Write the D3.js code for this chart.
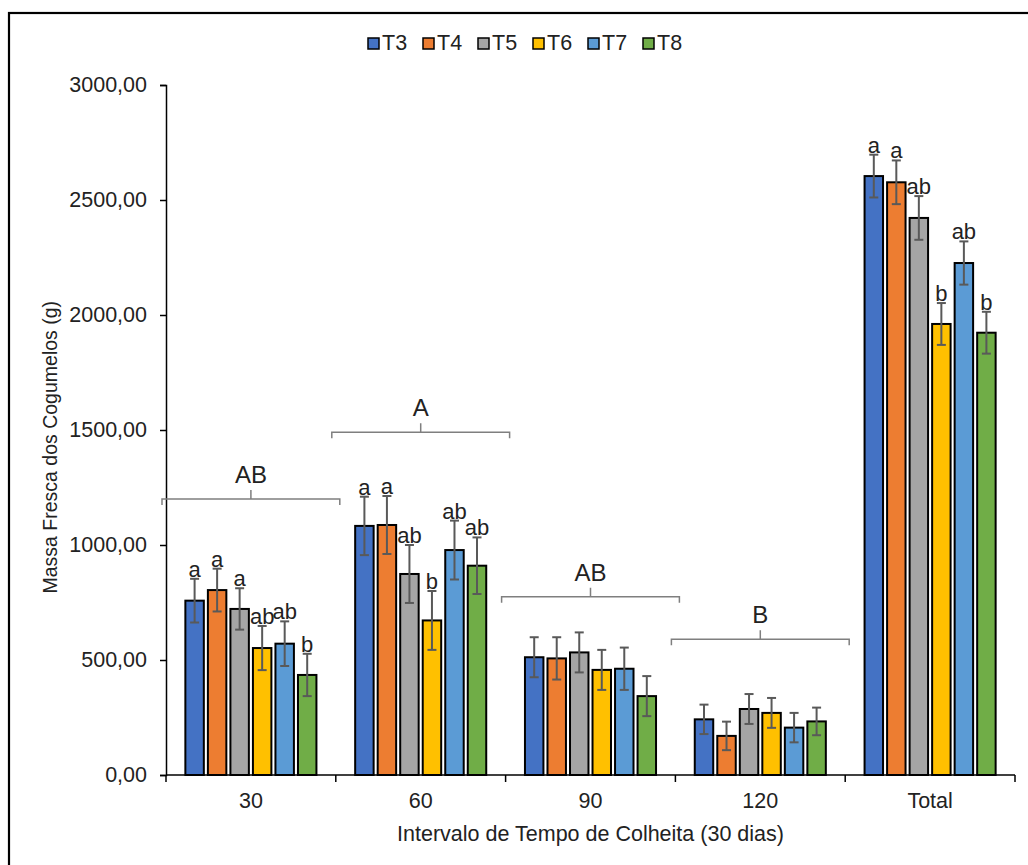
<!DOCTYPE html>
<html>
<head>
<meta charset="utf-8">
<script src="https://cdn.jsdelivr.net/npm/d3@7"></script>
<style>
    body { margin: 0; background: #fff; }
    text { font-family: Arial, "Liberation Sans", sans-serif; fill: #222; }
</style>
</head>
<body>
<div id="chart"></div>
<script>

// categories and series
let categories = ["30", "60", "90", "120", "Total"];
let series = ["T3", "T4", "T5", "T6", "T7", "T8"];
let colors = ["#4472C4", "#ED7D31", "#A5A5A5", "#FFC000", "#5B9BD5", "#70AD47"];

// mean fresh mass per series, one value per category
let t3 = [758, 1083, 512, 242, 2604];
let t4 = [804, 1087, 507, 170, 2577];
let t5 = [722, 874, 533, 287, 2422];
let t6 = [552, 672, 457, 270, 1961];
let t7 = [571, 978, 462, 206, 2226];
let t8 = [435, 910, 343, 233, 1923];

// error (+/-) per series
let t3Err = [95, 127, 87, 64, 93];
let t4Err = [93, 126, 92, 62, 95];
let t5Err = [90, 126, 87, 65, 95];
let t6Err = [96, 128, 87, 65, 91];
let t7Err = [97, 128, 92, 64, 94];
let t8Err = [92, 123, 87, 60, 91];

// significance letters per category (series order)
let letters30 = ["a", "a", "a", "ab", "ab", "b"];
let letters60 = ["a", "a", "ab", "b", "ab", "ab"];
let letters90 = ["", "", "", "", "", ""];
let letters120 = ["", "", "", "", "", ""];
let lettersTotal = ["a", "a", "ab", "b", "ab", "b"];

// group letters and bracket level for the time intervals
let groupCats = ["30", "60", "90", "120"];
let groupLetters = ["AB", "A", "AB", "B"];
let groupLevels = [1200, 1490, 775, 590];

let yTicks = [0, 500, 1000, 1500, 2000, 2500, 3000];

// build the table
let allValues = [t3, t4, t5, t6, t7, t8];
let allErrs = [t3Err, t4Err, t5Err, t6Err, t7Err, t8Err];
let allLetters = [letters30, letters60, letters90, letters120, lettersTotal];

let data = [];
categories.forEach((cat, ci) => {
    series.forEach((s, si) => {
        data.push({
            cat: cat,
            series: s,
            value: allValues[si][ci],
            err: allErrs[si][ci],
            letter: allLetters[ci][si],
            color: colors[si]
        });
    });
});

let W = 1028, H = 865;
let margin = {top: 85, right: 13, bottom: 90, left: 166};
let width = W - margin.left - margin.right;
let height = H - margin.top - margin.bottom;

let svg = d3.select("#chart").append("svg")
    .attr("width", W)
    .attr("height", H);

// outer frame
svg.append("rect")
    .attr("x", 9).attr("y", 13)
    .attr("width", W + 20).attr("height", H + 20)
    .attr("fill", "none")
    .attr("stroke", "#000")
    .attr("stroke-width", 2.2);

let g = svg.append("g")
    .attr("transform", `translate(${margin.left}, ${margin.top})`);

// scales
let x = d3.scaleBand().domain(categories).range([0, width]).padding(0);
let xInner = d3.scaleBand().domain(series).range([0, x.bandwidth()])
    .paddingInner(0.18).paddingOuter(0.86);
let y = d3.scaleLinear().domain([0, 3000]).range([height, 0]);

// y axis
let yAxis = d3.axisLeft(y)
    .tickValues(yTicks)
    .tickSize(6)
    .tickPadding(13)
    .tickFormat(d => d3.format(".2f")(d).replace(".", ","));

let yAxisG = g.append("g").attr("class", "axis y-axis").call(yAxis);
yAxisG.select(".domain").attr("stroke", "#000").attr("stroke-width", 1.5);
yAxisG.selectAll(".tick line").attr("stroke", "#000").attr("stroke-width", 1.5);
yAxisG.selectAll(".tick text")
    .style("font-size", "21.5px")
    .style("font-family", "Arial, 'Liberation Sans', sans-serif")
    .attr("fill", "#222");

// x axis: ticks between categories, labels at band centres
let xAxisG = g.append("g")
    .attr("class", "axis x-axis")
    .attr("transform", `translate(0, ${height})`);

xAxisG.append("line")
    .attr("x1", 0).attr("x2", width)
    .attr("stroke", "#000").attr("stroke-width", 1.5);

let bounds = categories.map(c => x(c)).concat([x(categories[categories.length - 1]) + x.bandwidth()]);
xAxisG.selectAll(".sep")
    .data(bounds)
    .enter().append("line")
    .attr("class", "sep")
    .attr("x1", d => d).attr("x2", d => d)
    .attr("y1", 0).attr("y2", 7)
    .attr("stroke", "#000").attr("stroke-width", 1.5);

xAxisG.selectAll(".catLabel")
    .data(categories)
    .enter().append("text")
    .attr("class", "catLabel")
    .attr("x", d => x(d) + x.bandwidth() / 2)
    .attr("y", 33)
    .attr("text-anchor", "middle")
    .style("font-size", "21.5px")
    .text(d => d);

// axis titles
g.append("text")
    .attr("x", width / 2)
    .attr("y", height + 66)
    .attr("text-anchor", "middle")
    .style("font-size", "21.5px")
    .text("Intervalo de Tempo de Colheita (30 dias)");

g.append("text")
    .attr("transform", `translate(${50 - margin.left + 7}, ${y(1425)}) rotate(-90)`)
    .attr("text-anchor", "middle")
    .style("font-size", "19.5px")
    .text("Massa Fresca dos Cogumelos (g)");

// bars
g.selectAll(".bar")
    .data(data)
    .enter().append("rect")
    .attr("class", "bar")
    .attr("x", d => x(d.cat) + xInner(d.series))
    .attr("width", xInner.bandwidth())
    .attr("y", d => y(d.value))
    .attr("height", d => height - y(d.value))
    .attr("fill", d => d.color)
    .attr("stroke", "#000")
    .attr("stroke-width", 2);

// error bars
let errG = g.append("g").attr("class", "errors");
let cap = 4.5;
data.forEach(d => {
    let cx = x(d.cat) + xInner(d.series) + xInner.bandwidth() / 2;
    let top = y(d.value + d.err), bot = y(d.value - d.err);
    errG.append("line").attr("x1", cx).attr("x2", cx).attr("y1", top).attr("y2", bot);
    errG.append("line").attr("x1", cx - cap).attr("x2", cx + cap).attr("y1", top).attr("y2", top);
    errG.append("line").attr("x1", cx - cap).attr("x2", cx + cap).attr("y1", bot).attr("y2", bot);
});
errG.selectAll("line").attr("stroke", "#595959").attr("stroke-width", 2);

// significance letters above error bars
g.selectAll(".sigLetter")
    .data(data.filter(d => d.letter !== ""))
    .enter().append("text")
    .attr("class", "sigLetter")
    .attr("x", d => x(d.cat) + xInner(d.series) + xInner.bandwidth() / 2)
    .attr("y", d => y(d.value + d.err) - 2)
    .attr("text-anchor", "middle")
    .style("font-size", "22px")
    .text(d => d.letter);

// group brackets
let brackets = groupCats.map((c, i) => ({cat: c, letter: groupLetters[i], level: groupLevels[i]}));
let bracketG = g.selectAll(".bracket")
    .data(brackets)
    .enter().append("g")
    .attr("class", "bracket");

bracketG.append("path")
    .attr("d", d => {
        let cx = x(d.cat) + x.bandwidth() / 2;
        let half = x.bandwidth() / 2 + 4;
        let ly = y(d.level);
        return `M${cx - half},${ly + 6} L${cx - half},${ly} L${cx + half},${ly} L${cx + half},${ly + 6}`
            + ` M${cx},${ly} L${cx},${ly - 9}`;
    })
    .attr("fill", "none")
    .attr("stroke", "#7f7f7f")
    .attr("stroke-width", 1.5);

bracketG.append("text")
    .attr("x", d => x(d.cat) + x.bandwidth() / 2)
    .attr("y", d => y(d.level) - 16)
    .attr("text-anchor", "middle")
    .style("font-size", "24px")
    .text(d => d.letter);

// legend
let legend = svg.append("g")
    .attr("class", "legend")
    .attr("transform", "translate(368, 38)");

let item = legend.selectAll(".item")
    .data(series)
    .enter().append("g")
    .attr("class", "item")
    .attr("transform", (d, i) => `translate(${i * 55}, 0)`);

item.append("rect")
    .attr("width", 11).attr("height", 11)
    .attr("fill", (d, i) => colors[i])
    .attr("stroke", "#000")
    .attr("stroke-width", 1.5);

item.append("text")
    .attr("x", 14)
    .attr("y", 12)
    .style("font-size", "21.5px")
    .text(d => d);

</script>
</body>
</html>
